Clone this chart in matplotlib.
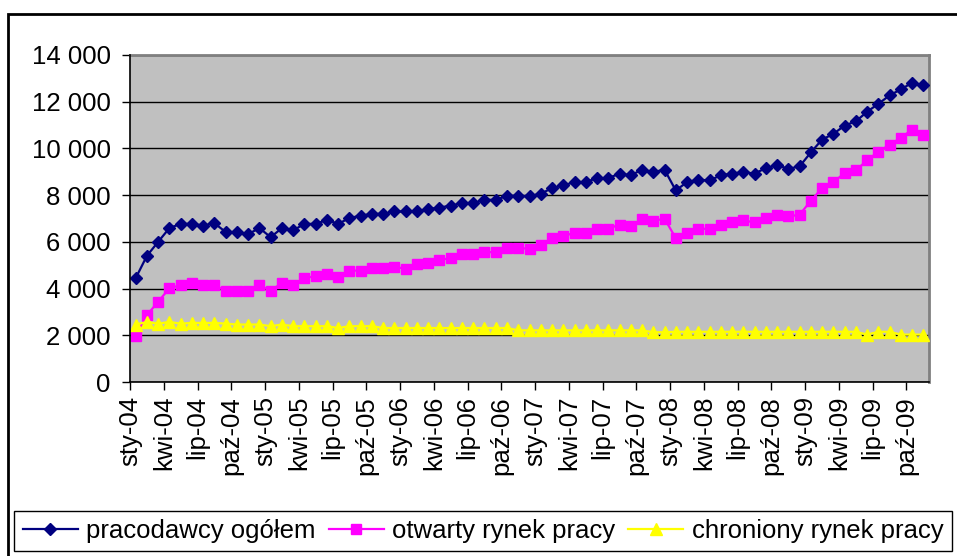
import matplotlib
matplotlib.use('Agg')
import matplotlib.pyplot as plt
from matplotlib.patches import Rectangle

plt.rcParams['font.family'] = ['Liberation Sans', 'DejaVu Sans']

# ---- data ----
tick_labels = ['sty-04', 'kwi-04', 'lip-04', 'paź-04',
               'sty-05', 'kwi-05', 'lip-05', 'paź-05',
               'sty-06', 'kwi-06', 'lip-06', 'paź-06',
               'sty-07', 'kwi-07', 'lip-07', 'paź-07',
               'sty-08', 'kwi-08', 'lip-08', 'paź-08',
               'sty-09', 'kwi-09', 'lip-09', 'paź-09']

y_ticks = [0, 2000, 4000, 6000, 8000, 10000, 12000, 14000]
y_tick_labels = ['0', '2 000', '4 000', '6 000', '8 000', '10 000', '12 000', '14 000']

series_names = ['pracodawcy ogółem', 'otwarty rynek pracy', 'chroniony rynek pracy']

pracodawcy_ogolem = [
    4440, 5400, 6000, 6590, 6770, 6770, 6700, 6800, 6420, 6420,
    6330, 6590, 6200, 6590, 6490, 6770, 6770, 6940, 6770, 7020,
    7120, 7200, 7200, 7300, 7300, 7300, 7400, 7470, 7550, 7660,
    7660, 7800, 7800, 7970, 7970, 7960, 8060, 8300, 8420, 8560,
    8560, 8730, 8730, 8920, 8850, 9090, 8990, 9090, 8200, 8560,
    8660, 8630, 8850, 8920, 8990, 8920, 9160, 9280, 9130, 9230,
    9830, 10380, 10620, 10980, 11160, 11570, 11910, 12270, 12530, 12810, 12700]

otwarty_rynek = [
    1980, 2860, 3440, 4010, 4150, 4250, 4150, 4150, 3890, 3890,
    3890, 4150, 3890, 4250, 4150, 4440, 4540, 4610, 4510, 4770,
    4770, 4870, 4870, 4940, 4840, 5040, 5110, 5230, 5300, 5470,
    5470, 5560, 5560, 5730, 5730, 5710, 5870, 6160, 6230, 6400,
    6400, 6560, 6560, 6740, 6660, 6990, 6900, 6990, 6160, 6400,
    6560, 6560, 6740, 6840, 6920, 6830, 7020, 7160, 7090, 7160,
    7760, 8300, 8550, 8950, 9060, 9490, 9860, 10160, 10450, 10810, 10590]

chroniony_rynek = [
    2460, 2570, 2500, 2570, 2500, 2530, 2530, 2530, 2500, 2460,
    2460, 2460, 2390, 2460, 2390, 2390, 2390, 2390, 2310, 2390,
    2390, 2390, 2310, 2310, 2310, 2310, 2310, 2310, 2310, 2310,
    2310, 2310, 2310, 2310, 2210, 2210, 2210, 2210, 2210, 2210,
    2210, 2210, 2210, 2210, 2210, 2210, 2130, 2130, 2150, 2150,
    2150, 2150, 2150, 2150, 2150, 2150, 2150, 2150, 2150, 2150,
    2150, 2150, 2150, 2150, 2150, 2030, 2150, 2150, 2030, 2030, 2030]

# ---- figure ----
W, H = 957, 556
fig = plt.figure(figsize=(W / 100, H / 100), dpi=100)
fig.patch.set_facecolor('white')

L, R, T, B = 130, 929, 55, 382
ax = fig.add_axes([L / W, 1 - B / H, (R - L) / W, (B - T) / H])
ax.set_facecolor('#C0C0C0')

n = len(pracodawcy_ogolem)
x = [i + 0.5 for i in range(n)]

h1, = ax.plot(x, pracodawcy_ogolem, color='#000080', lw=1.6, marker='D', ms=6.5,
              mec='#000080', mfc='#000080', zorder=3)
h2, = ax.plot(x, otwarty_rynek, color='#FF00FF', lw=1.6, marker='s', ms=7.5,
              mec='#FF00FF', mfc='#FF00FF', zorder=4)
h3, = ax.plot(x, chroniony_rynek, color='#FFFF00', lw=1.6, marker='^', ms=8.5,
              mec='#FFFF00', mfc='#FFFF00', zorder=5)

FS = 18.5
ax.set_xlim(0, n)
ax.set_ylim(0, 14000)
ax.set_yticks(y_ticks)
ax.set_yticklabels(y_tick_labels, fontsize=FS)
ax.set_xticks(list(range(0, 3 * len(tick_labels), 3)))
ax.set_xticklabels(tick_labels, rotation=90, fontsize=FS)

ax.grid(axis='y', color='black', lw=1)
ax.grid(axis='x', visible=False)
ax.set_axisbelow(True)

for s in ['top', 'right']:
    ax.spines[s].set_color('#808080')
    ax.spines[s].set_linewidth(2)
for s in ['left', 'bottom']:
    ax.spines[s].set_color('black')
    ax.spines[s].set_linewidth(1.2)
    ax.spines[s].set_zorder(6)

ax.tick_params(axis='y', direction='out', length=6, width=1, pad=8, colors='black')
ax.tick_params(axis='x', direction='out', length=6, width=1, pad=4, colors='black')

# legend
leg = fig.legend([h1, h2, h3], series_names, loc='center',
                 bbox_to_anchor=(483 / W, 1 - 531 / H), ncol=3,
                 frameon=True, fancybox=False, edgecolor='black', framealpha=1,
                 fontsize=FS, handlelength=2.15, columnspacing=0.5,
                 handletextpad=0.32, borderpad=0.33, borderaxespad=0)
leg.get_frame().set_linewidth(1)

# outer chart frame
fig.add_artist(Rectangle((8 / W, -0.1), 1.2, 1 - 14 / H + 0.1,
                         transform=fig.transFigure, fill=False,
                         edgecolor='black', lw=2))

fig.savefig('out.png', dpi=100)
